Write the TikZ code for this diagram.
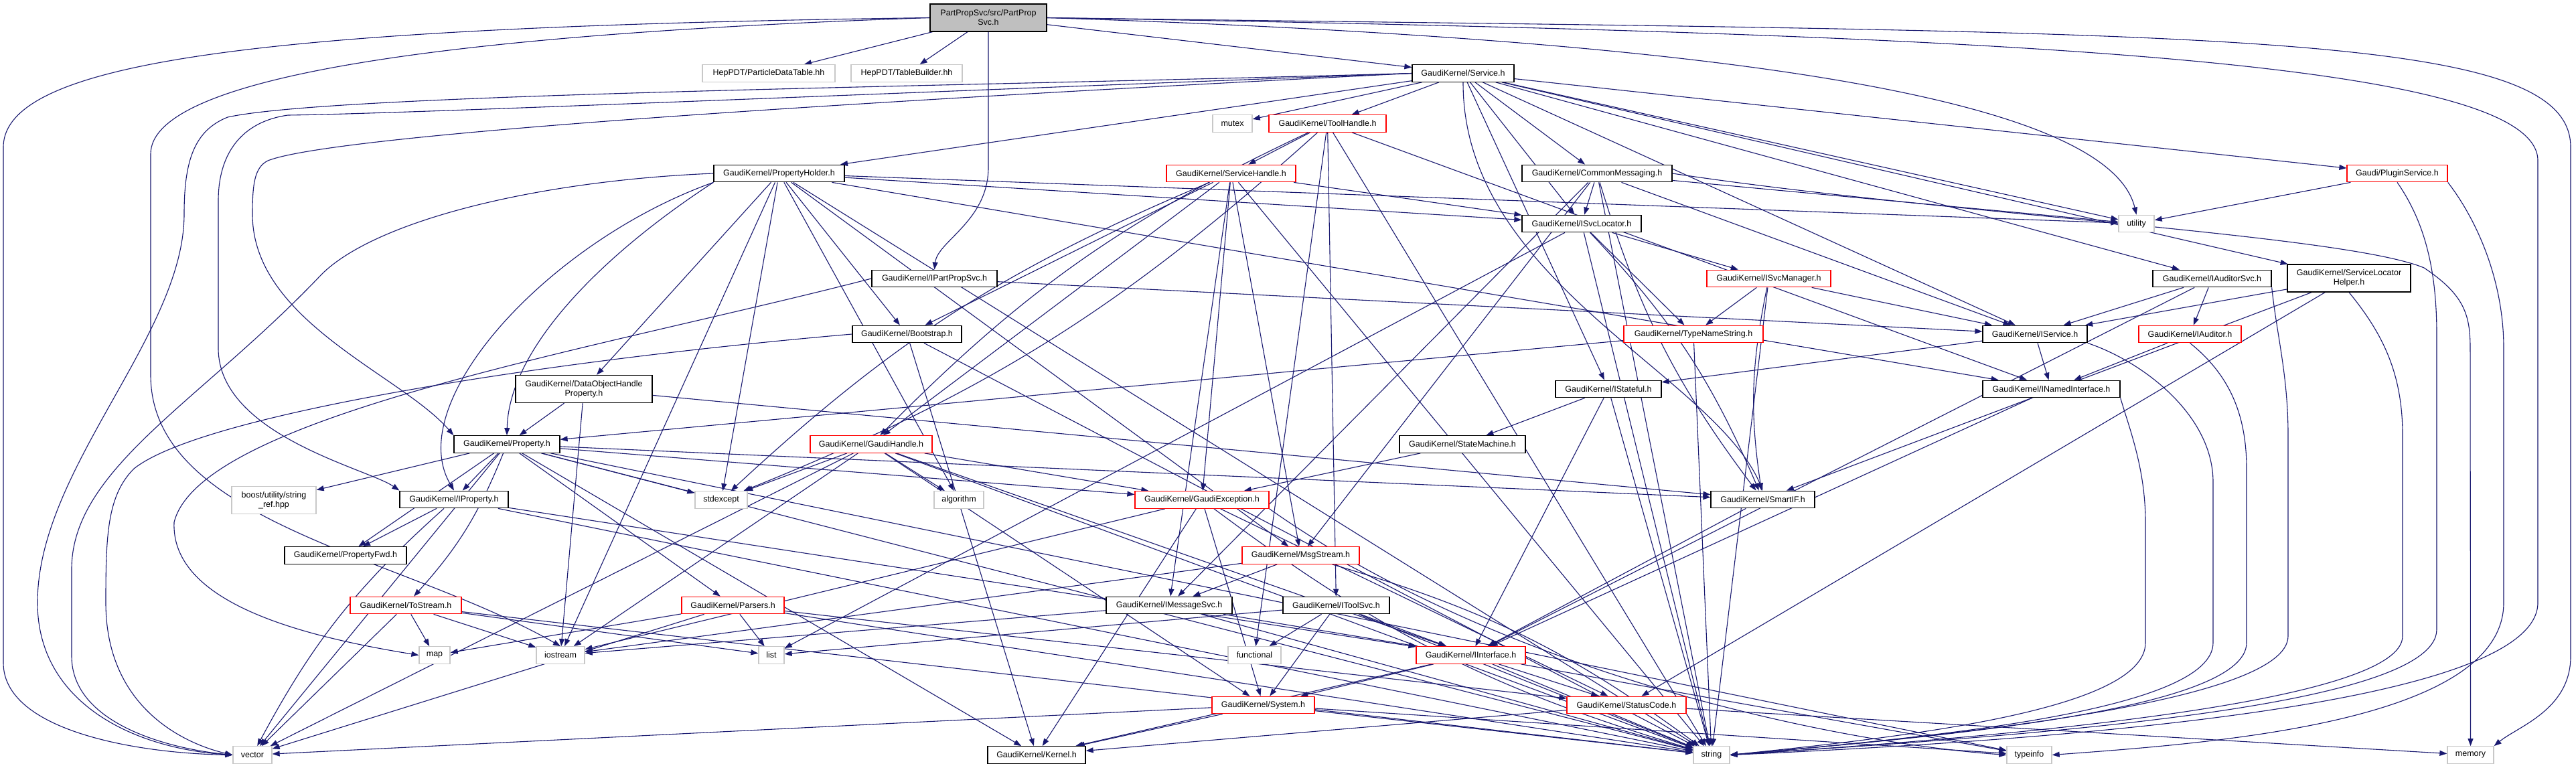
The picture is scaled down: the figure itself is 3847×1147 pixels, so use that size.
\documentclass[tikz,border=0pt]{standalone}
\usepackage{fontspec}
\newfontfamily\hvfont{Liberation Sans}
\usetikzlibrary{arrows.meta,backgrounds}
\definecolor{ec}{RGB}{25,25,112}
\definecolor{gb}{RGB}{191,191,191}
\definecolor{lg}{RGB}{200,200,200}
\newcommand\nodefont{\hvfont\fontsize{12.5}{14}\selectfont}
\begin{document}
\begin{tikzpicture}[x=1pt,y=-1pt,
  nb/.style={draw=black, line width=1.3pt, fill=white, inner sep=0pt, minimum height=25.5pt, font=\nodefont, align=center},
  nr/.style={nb, draw=red},
  ng/.style={nb, draw=lg},
  nmain/.style={nb, fill=gb},
  e/.style={draw=ec, line width=1.1pt, -{Triangle[length=11pt,width=8pt]}}]
\useasboundingbox (0,0) rectangle (3847,1147);
% nodes
\node[nmain, minimum width=174pt, minimum height=41pt] (pps) at (1476,26.5) {PartPropSvc/src/PartProp\\Svc.h};
\node[ng, minimum width=198pt] (pdt) at (1148,109.5) {HepPDT/ParticleDataTable.hh};
\node[ng, minimum width=166pt] (tb) at (1354,109.5) {HepPDT/TableBuilder.hh};
\node[nb, minimum width=152pt] (svc) at (2185,109.5) {GaudiKernel/Service.h};
\node[ng, minimum width=59pt] (mutex) at (1840.5,184.5) {mutex};
\node[nr, minimum width=175pt] (th) at (1982.5,184.5) {GaudiKernel/ToolHandle.h};
\node[nr, minimum width=150pt] (plug) at (3580,259) {Gaudi/PluginService.h};
\node[nb, minimum width=195pt] (ph) at (1163.5,259) {GaudiKernel/PropertyHolder.h};
\node[nr, minimum width=193pt] (sh) at (1838.5,259) {GaudiKernel/ServiceHandle.h};
\node[nb, minimum width=224pt] (cm) at (2385,259) {GaudiKernel/CommonMessaging.h};
\node[ng, minimum width=53pt] (util) at (3190.5,334) {utility};
\node[nb, minimum width=178pt] (isl) at (2362,334) {GaudiKernel/ISvcLocator.h};
\node[nb, minimum width=187pt] (ipps) at (1395.5,416) {GaudiKernel/IPartPropSvc.h};
\node[nr, minimum width=185pt] (ism) at (2641.5,416) {GaudiKernel/ISvcManager.h};
\node[nb, minimum width=177pt] (ias) at (3303.5,416) {GaudiKernel/IAuditorSvc.h};
\node[nb, minimum width=184pt, minimum height=41pt] (slh) at (3508,415.5) {GaudiKernel/ServiceLocator\\Helper.h};
\node[nb, minimum width=163pt] (boot) at (1354.5,499) {GaudiKernel/Bootstrap.h};
\node[nr, minimum width=208pt] (tns) at (2529,499) {GaudiKernel/TypeNameString.h};
\node[nb, minimum width=156pt] (isvc) at (3039,499) {GaudiKernel/IService.h};
\node[nr, minimum width=153pt] (iaud) at (3270.5,499) {GaudiKernel/IAuditor.h};
\node[nb, minimum width=204pt, minimum height=41pt] (dohp) at (872,581) {GaudiKernel/DataObjectHandle\\Property.h};
\node[nb, minimum width=158pt] (ist) at (2402,581) {GaudiKernel/IStateful.h};
\node[nb, minimum width=205pt] (ini) at (3063.5,581) {GaudiKernel/INamedInterface.h};
\node[nb, minimum width=188pt] (sm) at (2184,663.5) {GaudiKernel/StateMachine.h};
\node[nb, minimum width=158pt] (prop) at (757,663.5) {GaudiKernel/Property.h};
\node[nr, minimum width=182pt] (gh) at (1301,663.5) {GaudiKernel/GaudiHandle.h};
\node[ng, minimum width=126pt, minimum height=41pt] (boost) at (409,747) {boost/utility/string\\\_ref.hpp};
\node[ng, minimum width=78pt] (stdex) at (1077,746.5) {stdexcept};
\node[ng, minimum width=74pt] (algo) at (1432,746.5) {algorithm};
\node[nr, minimum width=200pt] (gex) at (1795,746.5) {GaudiKernel/GaudiException.h};
\node[nb, minimum width=155pt] (sif) at (2632.5,746) {GaudiKernel/SmartIF.h};
\node[nb, minimum width=162pt] (iprop) at (678,746) {GaudiKernel/IProperty.h};
\node[nr, minimum width=175pt] (msg) at (1942.5,829.5) {GaudiKernel/MsgStream.h};
\node[nb, minimum width=182pt] (pfwd) at (516,829.5) {GaudiKernel/PropertyFwd.h};
\node[nr, minimum width=166pt] (tos) at (606,904) {GaudiKernel/ToStream.h};
\node[nr, minimum width=153pt] (pars) at (1094.5,904) {GaudiKernel/Parsers.h};
\node[nb, minimum width=188pt] (ims) at (1746,904) {GaudiKernel/IMessageSvc.h};
\node[nb, minimum width=159pt] (its) at (1995.5,904) {GaudiKernel/IToolSvc.h};
\node[ng, minimum width=46pt] (map) at (649,978.5) {map};
\node[ng, minimum width=72pt] (ios) at (837,978.5) {iostream};
\node[ng, minimum width=38pt] (list) at (1152,978.5) {list};
\node[ng, minimum width=79pt] (func) at (1873.5,978.5) {functional};
\node[nr, minimum width=163pt] (iif) at (2196.5,978.5) {GaudiKernel/IInterface.h};
\node[nr, minimum width=153pt] (sys) at (1886.5,1053) {GaudiKernel/System.h};
\node[nr, minimum width=178pt] (sc) at (2429,1053) {GaudiKernel/StatusCode.h};
\node[ng, minimum width=58pt] (vec) at (377,1127.5) {vector};
\node[nb, minimum width=146pt] (ker) at (1548,1127.5) {GaudiKernel/Kernel.h};
\node[ng, minimum width=54pt] (str) at (2556,1127.5) {string};
\node[ng, minimum width=67pt] (ti) at (3030.5,1127.5) {typeinfo};
\node[ng, minimum width=69pt] (mem) at (3689.5,1127.5) {memory};
% edges
\begin{scope}[on background layer]
\fill[white] (0,0) rectangle (3847,1147);
\foreach \a/\b in {pps/pdt, pps/tb, pps/svc,
 svc/mutex, svc/th, svc/ph, svc/cm, svc/isl, svc/ist, svc/isvc, svc/ias, svc/slh, svc/plug, svc/util,
 th/sh, th/its, th/ini, th/str, th/func,
 sh/gh, sh/boot, sh/gex, sh/ims, sh/msg, sh/isl, sh/str,
 ph/dohp, ph/boot, ph/isl, ph/util, ph/ini, ph/msg, ph/stdex, ph/algo, ph/ios, ph/str,
 cm/ims, cm/isl, cm/msg, cm/isvc, cm/util, cm/str,
 isl/ism, isl/tns, isl/list, isl/str,
 ism/tns, ism/isvc, ism/str,
 tns/prop, tns/str, ipps/isvc, boot/ker, boot/str,
 ias/isvc, ias/iaud, ias/iif, slh/isvc, slh/sif, slh/sc,
 isvc/ini, isvc/ist, iaud/ini, ini/iif, ist/sm, ist/iif, ist/str, sm/gex,
 dohp/prop, dohp/ios, dohp/sif,
 prop/boost, prop/iprop, prop/pfwd, prop/pars, prop/gex, prop/sif, prop/ker, prop/stdex, prop/str, prop/ti, prop/vec,
 iprop/pfwd, iprop/iif, iprop/str,
 gh/stdex, gh/algo, gh/gex, gh/ios, gh/vec, gh/sys, gh/iif, gh/str,
 gex/ios, gex/ker, gex/sys, gex/sc,
 msg/ims, msg/ios,
 tos/vec, tos/map, tos/ios, tos/list, tos/str,
 pars/list, pars/str, pars/map, pars/vec, pars/sc,
 ims/ios, ims/str, ims/iif,
 its/func, its/iif, its/sys, its/list, its/str,
 iif/sys, iif/ker, iif/str, iif/sc, iif/ti,
 sys/vec, sys/ker, sys/str, sys/ti,
 sc/ker, sc/mem, sif/iif, plug/util}
 \draw[e] (\a) -- (\b);
% gently bent edges (to keep near-parallel connectors apart)
\foreach \a/\b in {th/gh, sh/stdex, ism/sif, cm/sif, iprop/vec, gex/str}
 \draw[e] (\a) to[bend right=10] (\b);
\foreach \a/\b in {th/stdex, isl/sif, prop/tos, msg/str}
 \draw[e] (\a) to[bend left=10] (\b);
\draw[e] (gex.south east) .. controls (2250,1010) and (2750,1110) .. (ti.west);
% curved routes
\draw[e] (ph.south west) .. controls (900,380) and (760,520) .. (prop.north);
\draw[e] (ph.south west) .. controls (820,360) and (600,600) .. (iprop.north);
\draw[e] (pps.south) -- (1476,250) .. controls (1476,330) and (1400,360) .. (ipps.north);
\draw[e] (pps.west) .. controls (400,40) and (5,90) .. (5,220) -- (5,990) .. controls (5,1090) and (200,1125) .. (vec.west);
\draw[e] (pps.west) .. controls (700,50) and (225,110) .. (225,230) -- (225,560) .. controls (225,780) and (600,830) .. (ios.north);
\draw[e] (pps.east) .. controls (3300,50) and (3839,40) .. (3839,220) -- (3839,980) .. controls (3839,1060) and (3760,1085) .. (mem.north east);
\draw[e] (pps.east) .. controls (3000,50) and (3790,90) .. (3790,240) -- (3790,900) .. controls (3790,1040) and (3200,1100) .. (str.east);
\draw[e] (pps.east) .. controls (2600,60) and (3150,150) .. (util.north);
\draw[e] (svc.west) .. controls (1400,130) and (500,140) .. (340,175) .. controls (290,195) and (275,240) .. (275,320) .. controls (275,500) and (56,700) .. (56,900) .. controls (56,1050) and (200,1118) .. (vec.west);
\draw[e] (svc.west) .. controls (1300,140) and (600,170) .. (430,172) .. controls (360,182) and (326,230) .. (326,300) -- (326,520) .. controls (326,650) and (550,700) .. (iprop.north west);
\draw[e] (svc.west) .. controls (1300,150) and (500,200) .. (400,240) .. controls (380,250) and (377,275) .. (377,320) .. controls (377,480) and (600,560) .. (prop.north west);
\draw[e] (svc.south) .. controls (2184,420) and (2560,560) .. (sif.north);
\draw[e] (ph.west) .. controls (800,270) and (560,330) .. (480,410) .. controls (300,600) and (107,700) .. (107,850) -- (107,980) .. controls (107,1080) and (250,1118) .. (vec.west);
\draw[e] (boot.west) .. controls (800,540) and (300,620) .. (200,700) .. controls (160,740) and (158,800) .. (158,900) .. controls (158,1060) and (280,1112) .. (vec.west);
\draw[e] (ipps.west) .. controls (900,520) and (300,620) .. (260,780) .. controls (255,900) and (450,950) .. (map.west);
\draw[e] (cm.east) .. controls (2900,320) and (3500,350) .. (3620,400) .. controls (3680,440) and (3689,470) .. (3689,520) -- (mem.north);
\draw[e] (plug.south) .. controls (3620,330) and (3639,400) .. (3639,500) -- (3639,940) .. controls (3639,1060) and (3000,1100) .. (str.east);
\draw[e] (plug.south east) .. controls (3700,330) and (3739,420) .. (3739,520) -- (3739,900) .. controls (3739,1080) and (3300,1110) .. (ti.east);
\draw[e] (slh.south) .. controls (3560,500) and (3588,560) .. (3588,650) -- (3588,950) .. controls (3588,1050) and (3000,1100) .. (str.east);
\draw[e] (ias.south east) .. controls (3400,500) and (3417,560) .. (3417,650) -- (3417,950) .. controls (3417,1050) and (2900,1100) .. (str.east);
\draw[e] (iaud.south) .. controls (3330,560) and (3355,620) .. (3355,700) -- (3355,960) .. controls (3355,1060) and (2900,1100) .. (str.east);
\draw[e] (isvc.south east) .. controls (3200,540) and (3305,620) .. (3305,720) -- (3305,960) .. controls (3305,1060) and (2900,1100) .. (str.east);
\draw[e] (ini.south east) .. controls (3180,640) and (3204,700) .. (3204,780) -- (3204,960) .. controls (3204,1060) and (2850,1100) .. (str.east);
\end{scope}
\end{tikzpicture}
\end{document}
